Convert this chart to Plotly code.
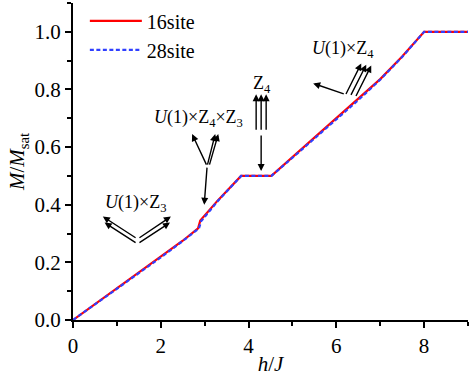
import plotly.graph_objects as go

# magnetization curves
h_16 = [0, 0.5, 1.0, 1.5, 2.0, 2.5, 2.85, 2.9, 3.3, 3.83, 4.52, 5.0, 5.5, 6.0, 6.5, 7.0, 7.5, 8.0, 9.0]
m_16 = [0, 0.055, 0.108, 0.163, 0.218, 0.275, 0.318, 0.345, 0.415, 0.5, 0.5, 0.565, 0.632, 0.7, 0.766, 0.836, 0.914, 1.0, 1.0]
h_28 = [0, 0.5, 1.0, 1.5, 2.0, 2.5, 2.87, 2.92, 3.3, 3.83, 4.52, 5.0, 5.5, 6.0, 6.5, 7.0, 7.5, 8.0, 9.0]
m_28 = [0, 0.054, 0.107, 0.162, 0.217, 0.274, 0.318, 0.343, 0.413, 0.5, 0.5, 0.563, 0.629, 0.697, 0.763, 0.834, 0.913, 1.0, 1.0]

FONT = "Times New Roman, Liberation Serif, serif"

fig = go.Figure()
fig.add_trace(go.Scatter(x=h_16, y=m_16, mode="lines", name="16site",
                         line=dict(color="#FF0000", width=2.2)))
fig.add_trace(go.Scatter(x=h_28, y=m_28, mode="lines", name="28site",
                         line=dict(color="#2F3FFF", width=2.2, dash="4px,2.5px")))

# arrows: (tail_x, tail_y, tip_x, tip_y)
arrows = [
    (1.46, 0.282, 0.68, 0.359), (1.46, 0.265, 0.72, 0.338),
    (1.48, 0.282, 2.23, 0.359), (1.48, 0.265, 2.21, 0.338),
    (3.056, 0.534, 2.99, 0.40),
    (3.056, 0.534, 2.714, 0.645),
    (3.056, 0.534, 3.24, 0.645), (3.10, 0.534, 3.31, 0.645),
    (4.173, 0.655, 4.173, 0.783), (4.287, 0.655, 4.287, 0.783), (4.401, 0.655, 4.401, 0.783),
    (4.287, 0.645, 4.287, 0.517),
    (6.203, 0.783, 5.473, 0.821),
    (6.203, 0.779, 6.568, 0.890), (6.317, 0.776, 6.682, 0.886), (6.431, 0.772, 6.796, 0.883),
]
for x0, y0, x1, y1 in arrows:
    fig.add_annotation(x=x1, y=y1, ax=x0, ay=y0, xref="x", yref="y", axref="x", ayref="y",
                       text="", showarrow=True, arrowhead=2, arrowsize=1,
                       arrowwidth=1.4, arrowcolor="black", standoff=0, startstandoff=0)

labels = [
    (1.414, 0.403, "<i>U</i>(1)×Z<sub>3</sub>"),
    (2.85, 0.70, "<i>U</i>(1)×Z<sub>4</sub>×Z<sub>3</sub>"),
    (4.31, 0.817, "Z<sub>4</sub>"),
    (6.16, 0.938, "<i>U</i>(1)×Z<sub>4</sub>"),
]
for x, y, t in labels:
    fig.add_annotation(x=x, y=y, text=t, showarrow=False,
                       font=dict(family=FONT, size=18, color="black"))

axis_common = dict(showline=True, linecolor="black", linewidth=2, ticks="outside",
                   ticklen=6, tickwidth=1.5, tickcolor="black", showgrid=False,
                   zeroline=False, mirror=False, automargin=False,
                   tickfont=dict(family=FONT, size=21, color="black"))

fig.update_layout(
    width=469, height=376,
    margin=dict(l=73, r=1, t=1, b=56),
    paper_bgcolor="white", plot_bgcolor="white",
    font=dict(family=FONT, color="black"),
    xaxis=dict(range=[0, 9], dtick=2, tick0=0,
               minor=dict(dtick=1, ticks="outside", ticklen=4, tickcolor="black", tickwidth=1.5),
               title=dict(text="<i>h</i>/<i>J</i>", font=dict(family=FONT, size=21), standoff=0),
               **axis_common),
    yaxis=dict(range=[0, 1.1], dtick=0.2, tick0=0, tickformat=".1f",
               minor=dict(dtick=0.1, ticks="outside", ticklen=4, tickcolor="black", tickwidth=1.5),
               title=dict(text="<i>M</i>/<i>M</i><sub>sat</sub>", font=dict(family=FONT, size=21), standoff=4),
               **axis_common),
    legend=dict(x=0.03, y=1.005, xanchor="left", yanchor="top", bgcolor="rgba(0,0,0,0)",
                font=dict(family=FONT, size=20, color="black"), tracegroupgap=0,
                itemwidth=52),
    showlegend=True,
)

fig.write_html("out.html", config={"displayModeBar": False},
               post_script="document.body.style.margin='0';")
